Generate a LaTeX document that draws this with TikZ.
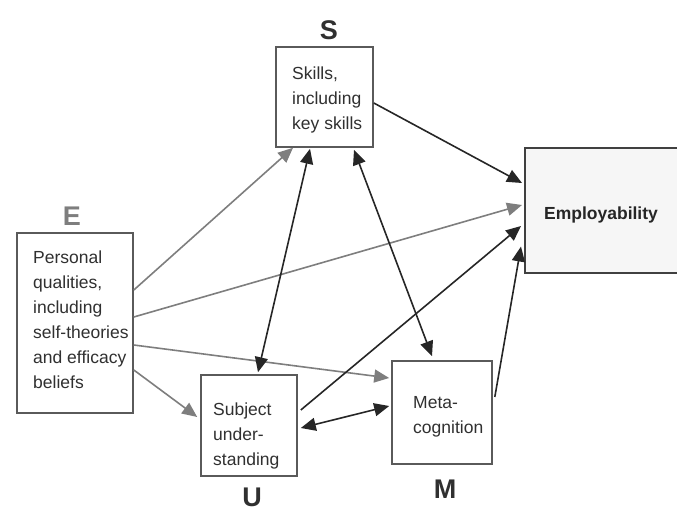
\documentclass[tikz,border=0pt]{standalone}
\usepackage{fontspec}
\setmainfont{Liberation Sans}
\usetikzlibrary{arrows.meta,calc}
\definecolor{txtc}{HTML}{303030}
\definecolor{boxc}{HTML}{5A5A5A}
\definecolor{greyarr}{HTML}{7E7E7E}
\definecolor{darkarr}{HTML}{262626}
\definecolor{empfill}{HTML}{F6F6F6}
\begin{document}
\begin{tikzpicture}[x=1pt,y=-1pt,
  box/.style={draw=boxc,line width=1.6pt,fill=white,rectangle,inner sep=0pt},
  txt/.style={text=txtc,align=left,inner sep=0pt,font=\fontsize{17.5}{25}\selectfont},
  letter/.style={font=\fontsize{27}{27}\selectfont\bfseries,inner sep=0pt},
  garr/.style={draw=greyarr,line width=1.6pt,-{Triangle[length=15pt,width=13pt]}},
  darr/.style={draw=darkarr,line width=1.6pt,-{Triangle[length=15pt,width=13pt]}},
  ddarr/.style={draw=darkarr,line width=1.6pt,{Triangle[length=15pt,width=13pt]}-{Triangle[length=15pt,width=13pt]}}
]
\useasboundingbox (0,0) rectangle (677,513);
% boxes
\node[box,minimum width=97pt,minimum height=100pt] (S) at (324.5,97) {};
\node[box,minimum width=116pt,minimum height=180pt] (E) at (75,323) {};
\node[box,minimum width=96pt,minimum height=101pt] (U) at (249,425.5) {};
\node[box,minimum width=100pt,minimum height=103pt] (M) at (442,412.5) {};
\node[box,draw=black!75,line width=2pt,fill=empfill,minimum width=155pt,minimum height=125pt] (Emp) at (602.5,210.5) {};
% texts
\node[txt,anchor=west] (St) at (292,100) {Skills,\\including\\key skills};
\node[txt,anchor=west] (Et) at (33,320) {Personal\\qualities,\\including\\self-theories\\and efficacy\\beliefs};
\node[txt,anchor=west] (Ut) at (213,436) {Subject\\under-\\standing};
\node[txt,anchor=west] (Mt) at (413,417) {Meta-\\cognition};
\node[txt,font=\fontsize{17.5}{20}\selectfont\bfseries,text=black!85] (Empt) at (601,215) {Employability};
% letters
\node[letter,text=txtc] (SL) at (329,30) {S};
\node[letter,text=greyarr] (EL) at (72,216) {E};
\node[letter,text=txtc] (UL) at (252,497) {U};
\node[letter,text=txtc] (ML) at (445,489) {M};
% connectors
\draw[garr] ($(E.east)+(0,-33)$) -- ($(S.south)+(-31.5,0)$);
\draw[garr] ($(E.east)+(0,-6)$) -- ($(Emp.west)+(-2,-5.5)$);
\draw[garr] ($(E.east)+(0,22)$) -- ($(M.west)+(-2,-34.5)$);
\draw[garr] ($(E.east)+(0,47)$) -- ($(U.west)+(-3,-8.5)$);
\draw[darr] ($(S.east)+(0,6)$) -- ($(Emp.west)+(-2,-27.5)$);
\draw[ddarr] ($(S.south)+(-14.5,1)$) -- ($(U.north)+(9,-2)$);
\draw[ddarr] ($(S.south)+(29.5,2)$) -- ($(M.north)+(-10,-4)$);
\draw[darr] ($(U.east)+(3,-15.5)$) -- ($(Emp.west)+(-3,15.5)$);
\draw[ddarr] ($(U.east)+(3,2.5)$) -- ($(M.west)+(-2,-6.5)$);
\draw[darr] ($(M.east)+(2,-15.5)$) -- ($(Emp.west)+(-3,36)$);
\end{tikzpicture}
\end{document}
